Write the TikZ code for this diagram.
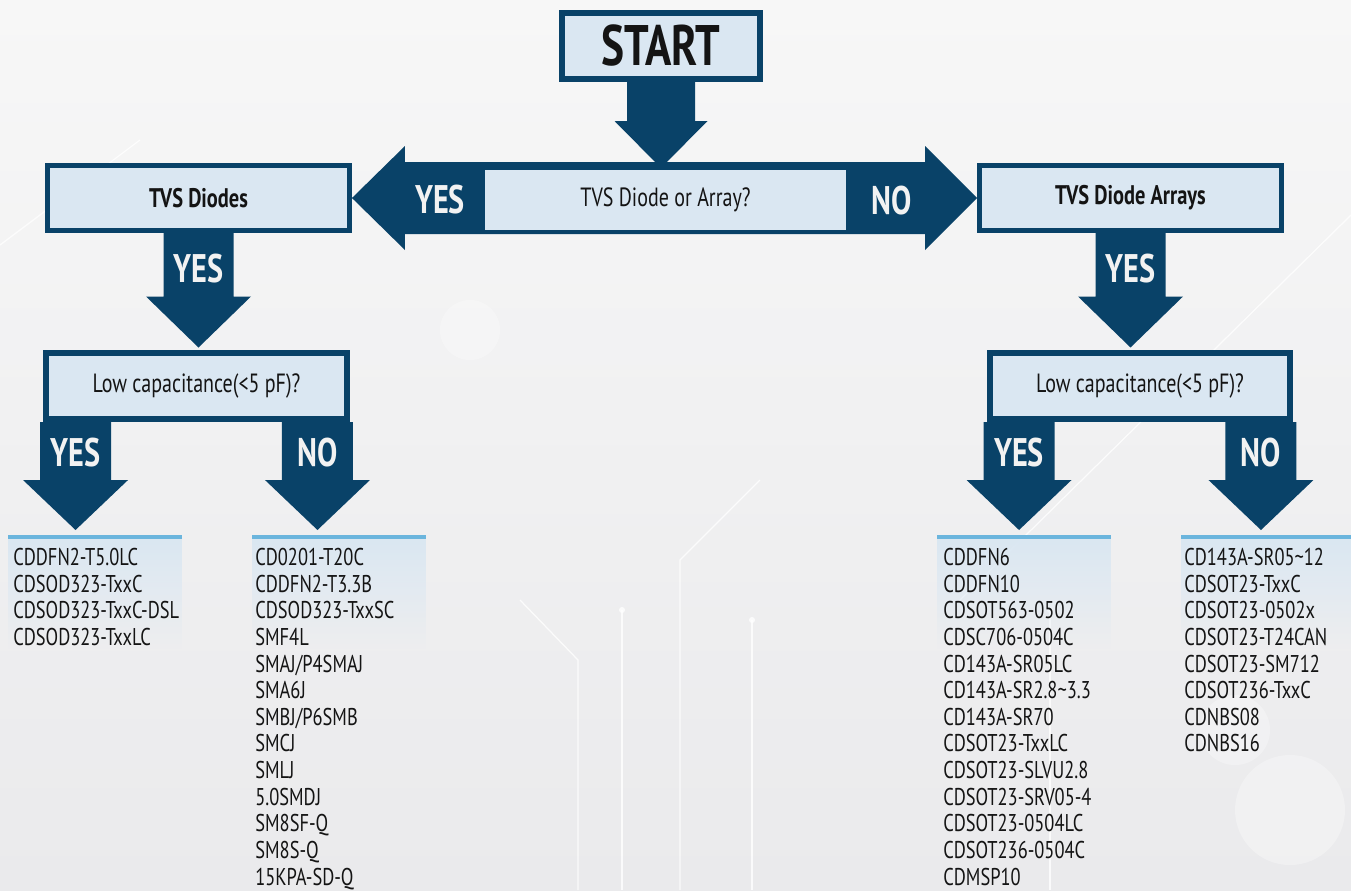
\documentclass[tikz,border=0pt]{standalone}
\usepackage{fontspec}
\setmainfont{PT Sans}[FakeStretch=0.76]
\usetikzlibrary{calc,fadings}
\definecolor{navy}{RGB}{9,66,104}
\definecolor{boxlight}{RGB}{218,231,242}
\definecolor{barblue}{RGB}{107,181,221}
\definecolor{inkblack}{RGB}{20,20,20}
\definecolor{labelwhite}{RGB}{242,242,242}
\definecolor{bgtop}{RGB}{247,247,247}
\definecolor{bgbottom}{RGB}{234,234,236}
\tikzset{
	bigbox/.style={rectangle,draw=navy,fill=boxlight,line width=0.12cm,inner sep=0pt,minimum width=3.96cm,minimum height=1.32cm,text=inkblack,font=\bfseries\fontsize{32.5}{36}\selectfont},
	headbox/.style={rectangle,draw=navy,fill=boxlight,line width=0.1cm,inner sep=0pt,minimum width=6.04cm,minimum height=1.3cm,text=inkblack,font=\bfseries\fontsize{15.3}{18}\selectfont},
	askbox/.style={rectangle,draw=navy,fill=boxlight,line width=0.12cm,inner sep=0pt,minimum width=6.02cm,minimum height=1.32cm,text=inkblack,font=\fontsize{15}{17}\selectfont},
	midbox/.style={rectangle,fill=boxlight,inner sep=0pt,minimum width=7.22cm,minimum height=1.2cm,text=inkblack,font=\fontsize{15}{17}\selectfont},
	yn/.style={inner sep=0pt,text=labelwhite,font=\bfseries\fontsize{22.7}{26}\selectfont},
	parts/.style={anchor=north west,align=left,inner sep=0pt,text=inkblack,font=\fontsize{13.8}{15.15}\selectfont},
	trace/.style={white,opacity=0.8,line width=0.7pt},
	glow/.style={white,opacity=0.3}}

% block arrow pointing down: top point, shaft half width, head half width, shaft length, head length
\newcommand{\downblock}[5]{%
	\fill[navy] (#1) ++(-#2,0) -- ++(0,#4) -- ++(#2-#3,0) -- ++(#3,#5) -- ++(#3,-#5) -- ++(#2-#3,0) -- ++(0,-#4) -- cycle;}

\begin{document}
\begin{tikzpicture}[x=0.02cm,y=-0.02cm]
	% background
	\shade[top color=bgtop,bottom color=bgbottom] (0,0) rectangle (1351,890);
	\useasboundingbox (0,0) rectangle (1351,890);
	\fill[glow] (1290,810) circle (55);
	\fill[glow] (1235,730) circle (35);
	\fill[glow] (470,330) circle (30);
	\draw[trace] (1351,215) -- (960,600);
	\draw[trace] (0,245) -- (140,140);
	\draw[trace] (578,890) -- (578,660) -- (520,600);
	\draw[trace] (622,890) -- (622,610);
	\draw[trace] (680,890) -- (680,560) -- (760,480);
	\draw[trace] (752,890) -- (752,620);
	\draw[trace] (1050,890) -- (1050,610);
	\fill[white,opacity=0.8] (622,610) circle (3) (752,620) circle (3) (1050,610) circle (3);

	% boxes
	\node (start) at (661,46) [bigbox] {START};
	\node (tvsd) at (198.5,198) [headbox] {TVS Diodes};
	\node (tvda) at (1130.5,198) [headbox] {TVS Diode Arrays};
	\node (askL) at (196.5,386) [askbox] {Low capacitance(<5 pF)?};
	\node (askR) at (1140,386) [askbox] {Low capacitance(<5 pF)?};

	% two-way arrow with the first question
	\fill[navy] (tvsd.east) -- ++(53,-52) -- ++(0,16) -- ($(tvda.west)+(-52,-36)$) -- ++(0,-16) -- (tvda.west) -- ++(-52,52) -- ++(0,-16) -- ($(tvsd.east)+(53,36)$) -- ++(0,16) -- cycle;
	\node (ask0) at (665.5,200) [midbox] {TVS Diode or Array?\hspace{0.5cm}};
	\node (yesL) at (440,200) [yn] {YES};
	\node (noR) at (892,201) [yn] {NO};

	% down arrows
	\downblock{start.south}{34}{46.5}{39}{47}
	\downblock{tvsd.south}{35}{52.5}{63.5}{51}
	\downblock{tvda.south}{35}{52.5}{63.5}{51}
	\node (yesD) at ($(tvsd.south)+(0,36)$) [yn] {YES};
	\node (yesA) at ($(tvda.south)+(0,36)$) [yn] {YES};

	\coordinate (yesDtop) at ($(askL.south west)+(32.5,0)$);
	\coordinate (noDtop) at ($(askL.south east)+(-32.5,0)$);
	\coordinate (yesAtop) at ($(askR.south west)+(32.5,0)$);
	\coordinate (noAtop) at ($(askR.south east)+(-32.5,0)$);
	\downblock{yesDtop}{35.5}{52.5}{58}{50}
	\downblock{noDtop}{35.5}{52.5}{58}{50}
	\downblock{yesAtop}{35.5}{52.5}{58}{50}
	\downblock{noAtop}{35.5}{52.5}{58}{50}
	\node (yesLowD) at ($(yesDtop)+(0,31)$) [yn] {YES};
	\node (noLowD) at ($(noDtop)+(0,31)$) [yn] {NO};
	\node (yesLowA) at ($(yesAtop)+(0,31)$) [yn] {YES};
	\node (noLowA) at ($(noAtop)+(0,31)$) [yn] {NO};

	% part lists
	\foreach \x in {8,252,937,1181} {
		\fill[boxlight,path fading=south] (\x,539) rectangle ++(174,110);
		\fill[barblue] (\x,535) rectangle ++(174,4);
	}
	\node (partsA) at (13,548) [parts] {CDDFN2-T5.0LC\\CDSOD323-TxxC\\CDSOD323-TxxC-DSL\\CDSOD323-TxxLC};
	\node (partsB) at (255,548) [parts] {CD0201-T20C\\CDDFN2-T3.3B\\CDSOD323-TxxSC\\SMF4L\\SMAJ/P4SMAJ\\SMA6J\\SMBJ/P6SMB\\SMCJ\\SMLJ\\5.0SMDJ\\SM8SF-Q\\SM8S-Q\\15KPA-SD-Q};
	\node (partsC) at (943,548) [parts] {CDDFN6\\CDDFN10\\CDSOT563-0502\\CDSC706-0504C\\CD143A-SR05LC\\CD143A-SR2.8\textasciitilde 3.3\\CD143A-SR70\\CDSOT23-TxxLC\\CDSOT23-SLVU2.8\\CDSOT23-SRV05-4\\CDSOT23-0504LC\\CDSOT236-0504C\\CDMSP10};
	\node (partsD) at (1184,548) [parts] {CD143A-SR05\textasciitilde 12\\CDSOT23-TxxC\\CDSOT23-0502x\\CDSOT23-T24CAN\\CDSOT23-SM712\\CDSOT236-TxxC\\CDNBS08\\CDNBS16};
\end{tikzpicture}
\end{document}
